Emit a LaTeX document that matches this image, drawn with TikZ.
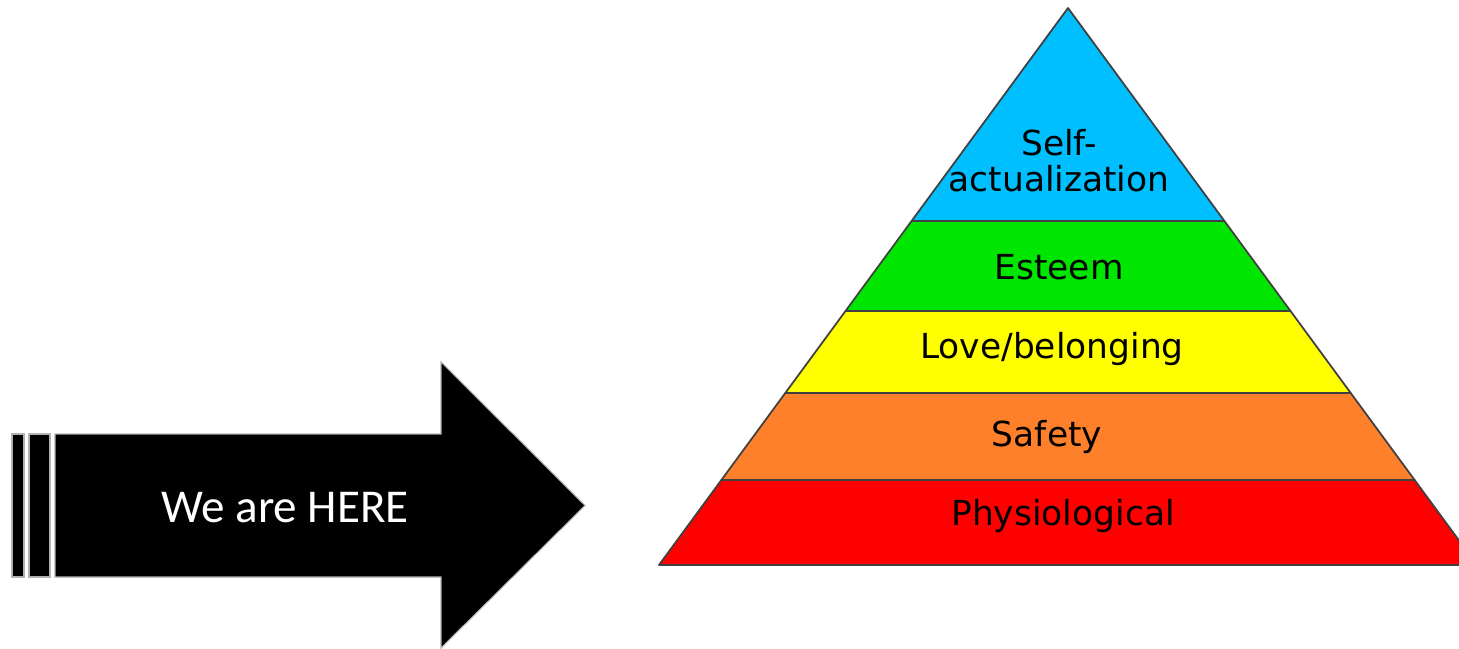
\documentclass[tikz,border=0pt]{standalone}
\usepackage{fontspec}
\setmainfont{DejaVu Sans}
\newfontfamily\herefont{Carlito}

\definecolor{selfblue}{RGB}{0,191,255}
\definecolor{esteemgreen}{RGB}{0,230,0}
\definecolor{loveyellow}{RGB}{255,255,0}
\definecolor{safeorange}{RGB}{255,128,42}
\definecolor{physred}{RGB}{255,0,0}

\tikzset{
  layer/.style={draw=black!75, line width=0.5pt, line join=round},
  layertext/.style={font=\fontsize{9.8}{10.3}\selectfont, align=center, inner sep=0pt},
  arrowpart/.style={fill=black, draw=black!30, line width=0.3pt},
}

\begin{document}
\begin{tikzpicture}[x=0.1mm,y=-0.1mm]
    \useasboundingbox (0,0) rectangle (1459,649);

    % striped arrow
    \draw[arrowpart] (12,434) rectangle (24,577);
    \draw[arrowpart] (29,434) rectangle (50,577);
    \draw[arrowpart] (55,434) -- (441,434) -- (441,362) -- (585,505.5) -- (441,648) -- (441,577) -- (55,577) -- cycle;
    \node[text=white, font=\herefont\fontsize{13.4}{16}\selectfont] (here) at (285,508) {We are HERE};

    % pyramid, cut at the right edge
    \begin{scope}
      \clip (0,0) rectangle (1459,649);
      \draw[layer, fill=physred] (721.4,480) -- (1414.6,480) -- (1477,565) -- (659,565) -- cycle;
      \draw[layer, fill=safeorange] (785.3,393) -- (1350.7,393) -- (1414.6,480) -- (721.4,480) -- cycle;
      \draw[layer, fill=loveyellow] (845.5,311) -- (1290.5,311) -- (1350.7,393) -- (785.3,393) -- cycle;
      \draw[layer, fill=esteemgreen] (911.6,221) -- (1224.4,221) -- (1290.5,311) -- (845.5,311) -- cycle;
      \draw[layer, fill=selfblue] (1068,8) -- (1224.4,221) -- (911.6,221) -- cycle;
    \end{scope}

    \node[layertext] (selfact) at (1059,161) {Self-\\actualization};
    \node[layertext] (esteem) at (1059,267) {Esteem};
    \node[layertext] (love) at (1052,349) {Love/belonging};
    \node[layertext] (safety) at (1047,437) {Safety};
    \node[layertext] (physio) at (1063,516) {Physiological};
\end{tikzpicture}
\end{document}
